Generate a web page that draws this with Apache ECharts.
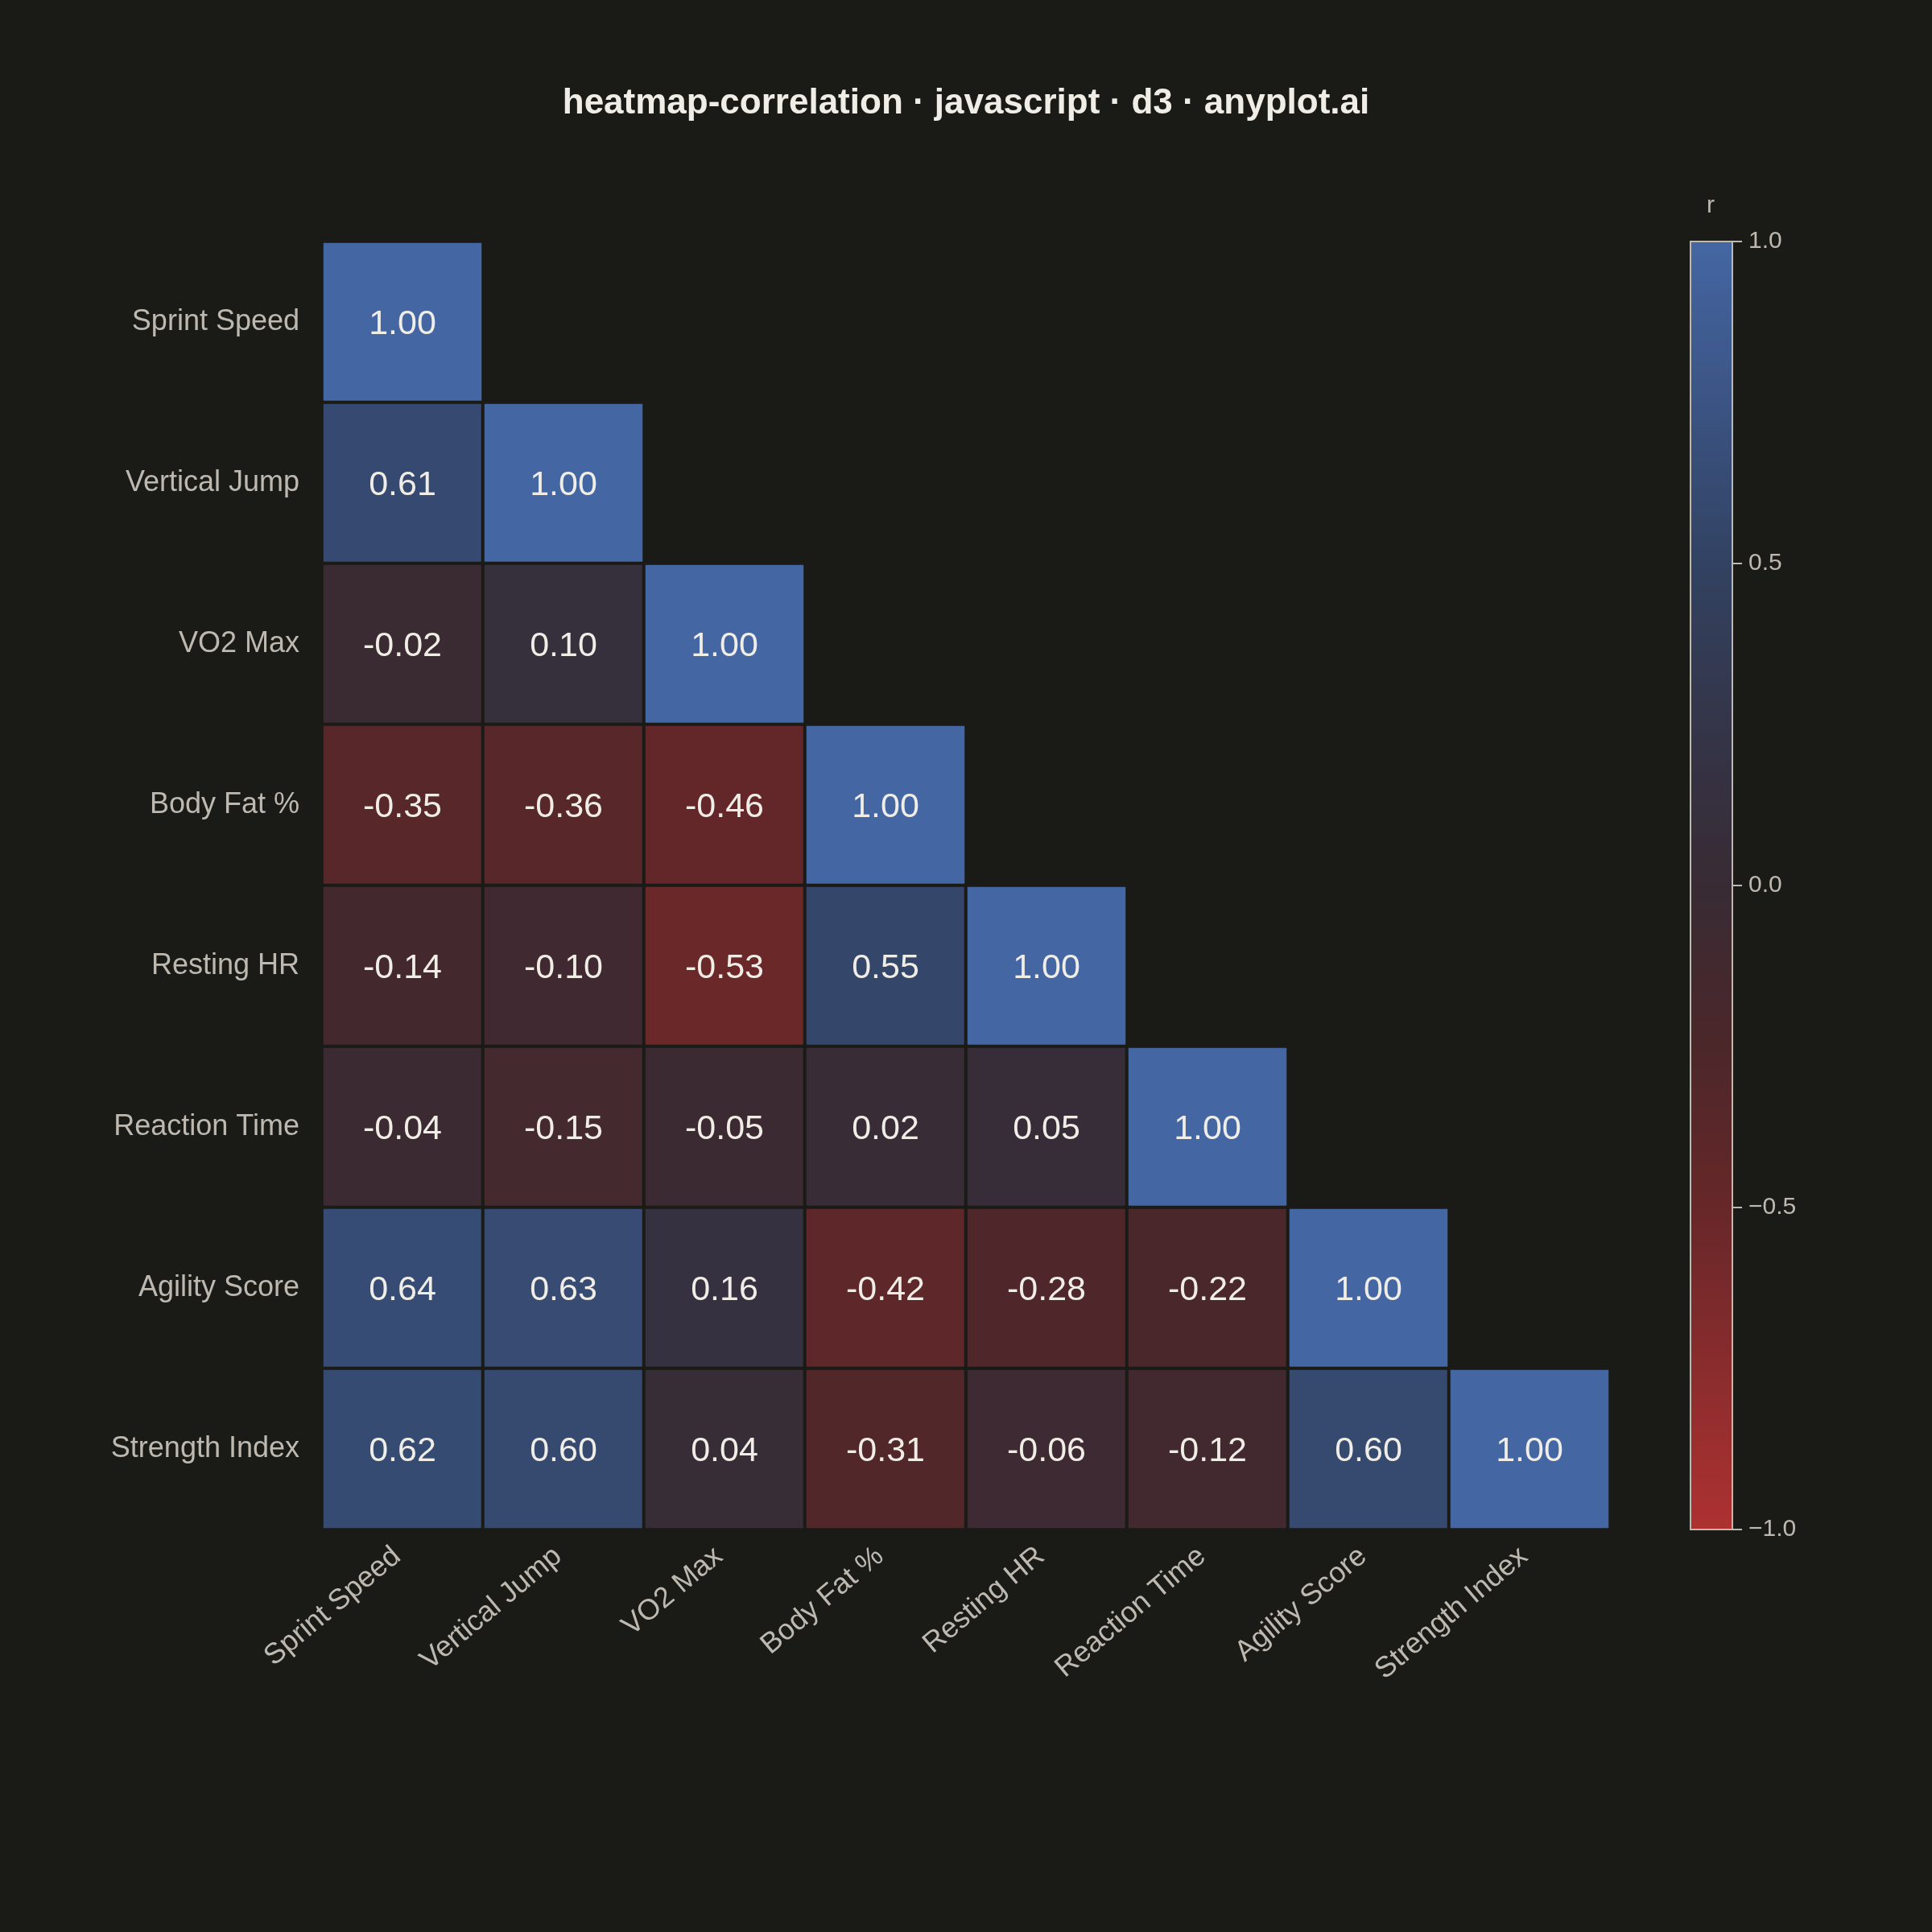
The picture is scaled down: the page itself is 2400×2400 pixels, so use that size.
<!DOCTYPE html>
<html>
<head>
<meta charset="utf-8">
<title>heatmap-correlation</title>
<script src="https://cdn.jsdelivr.net/npm/echarts@6/dist/echarts.min.js"></script>
<style>
  html, body { margin: 0; padding: 0; background: #1a1a17; }
  #chart { width: 2400px; height: 2400px; }
</style>
</head>
<body>
<div id="chart"></div>
<script>
  // variables, same order on both axes
  var variables = ['Sprint Speed', 'Vertical Jump', 'VO2 Max', 'Body Fat %',
    'Resting HR', 'Reaction Time', 'Agility Score', 'Strength Index']

  // lower triangle of the correlation matrix, row by row
  var corrRows = [
    [1.00],
    [0.61, 1.00],
    [-0.02, 0.10, 1.00],
    [-0.35, -0.36, -0.46, 1.00],
    [-0.14, -0.10, -0.53, 0.55, 1.00],
    [-0.04, -0.15, -0.05, 0.02, 0.05, 1.00],
    [0.64, 0.63, 0.16, -0.42, -0.28, -0.22, 1.00],
    [0.62, 0.60, 0.04, -0.31, -0.06, -0.12, 0.60, 1.00]
  ]

  // colour bar range and ticks
  var scaleMin = -1
  var scaleMax = 1
  var scaleStep = 0.5

  // diverging colours from -1 to 1
  var rampColors = ['#ae3131', '#8a2c2d', '#672729', '#4c272a', '#382b34',
    '#343549', '#324262', '#3b5483', '#4466a3']

  var bg = '#1a1a17'
  var ink = '#f0ede6'
  var muted = '#bdb9b0'
  var font = 'Liberation Sans, Arial, sans-serif'

  var cells = []
  corrRows.forEach(function (row, i) {
    row.forEach(function (v, j) {
      cells.push([j, i, v])
    })
  })

  var chart = echarts.init(document.getElementById('chart'))

  var option = {
    backgroundColor: bg,
    animation: false,
    textStyle: { fontFamily: font },
    title: [
      {
        text: 'heatmap-correlation · javascript · d3 · anyplot.ai',
        left: 'center',
        top: 102,
        textStyle: { color: ink, fontSize: 44, fontWeight: 'bold', fontFamily: font }
      },
      {
        text: 'r',
        left: 2120,
        top: 241,
        padding: 0,
        textStyle: { color: muted, fontSize: 30, fontWeight: 'normal', fontFamily: font }
      }
    ],
    grid: [
      { left: 400, top: 300, width: 1600, height: 1600 },
      // frame of the colour bar, drawn over the visualMap bar
      {
        left: 2100, top: 300, width: 52, height: 1600,
        show: true, z: 6,
        backgroundColor: 'transparent',
        borderColor: muted, borderWidth: 2
      }
    ],
    xAxis: [
      {
        type: 'category',
        gridIndex: 0,
        data: variables,
        axisLine: { show: false },
        axisTick: { show: false },
        splitLine: { show: false },
        axisLabel: {
          rotate: 40, margin: 23, color: muted, fontSize: 36, fontFamily: font,
          padding: [0, 9, 0, 0]
        }
      },
      {
        type: 'value',
        gridIndex: 1,
        min: 0,
        max: 1,
        show: false
      }
    ],
    yAxis: [
      {
        type: 'category',
        gridIndex: 0,
        data: variables,
        inverse: true,
        axisLine: { show: false },
        axisTick: { show: false },
        splitLine: { show: false },
        axisLabel: { margin: 28, color: muted, fontSize: 36, fontFamily: font, padding: [8, 0, 0, 0] }
      },
      {
        type: 'value',
        gridIndex: 1,
        position: 'right',
        z: 7,
        min: scaleMin,
        max: scaleMax,
        interval: scaleStep,
        axisLine: { show: true, onZero: false, lineStyle: { color: muted, width: 2 } },
        splitLine: { show: false },
        axisTick: { show: true, inside: false, length: 12, lineStyle: { color: muted, width: 2 } },
        axisLabel: {
          margin: 20,
          color: muted,
          fontSize: 30,
          fontFamily: font,
          formatter: function (v) {
            return v.toFixed(1).replace('-', '\u2212')
          }
        }
      }
    ],
    visualMap: {
      type: 'continuous',
      seriesIndex: 0,
      min: scaleMin,
      max: scaleMax,
      calculable: false,
      hoverLink: false,
      left: 2100,
      top: 300,
      z: 2,
      itemWidth: 52,
      itemHeight: 1600,
      padding: 0,
      text: null,
      showLabel: false,
      inRange: { color: rampColors }
    },
    series: [
      {
        type: 'heatmap',
        xAxisIndex: 0,
        yAxisIndex: 0,
        data: cells,
        itemStyle: { borderColor: bg, borderWidth: 4 },
        label: {
          show: true,
          color: ink,
          fontSize: 43,
          fontFamily: font,
          offset: [0, 3],
          formatter: function (p) {
            return p.value[2].toFixed(2)
          }
        },
        emphasis: { disabled: true }
      }
    ]
  }

  chart.setOption(option)
</script>
</body>
</html>
